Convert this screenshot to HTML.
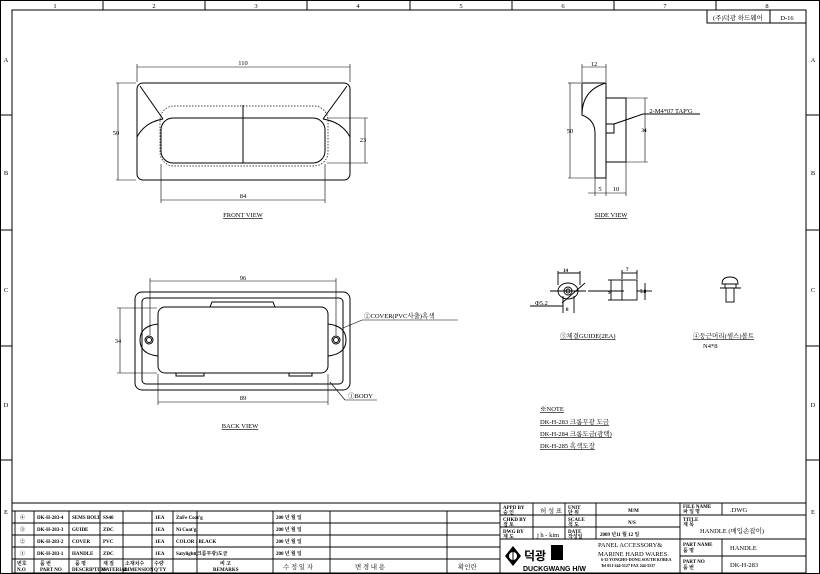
<!DOCTYPE html>
<html><head><meta charset="utf-8"><style>
html,body{margin:0;padding:0;background:#fff}
svg{display:block}
text{font-family:"Liberation Serif","Noto Serif CJK SC","Noto Sans CJK KR",serif;fill:#000}
.s{font-size:6.5px}
.t{font-size:5px;font-weight:bold}
</style></head><body>
<svg width="820" height="574" viewBox="0 0 820 574" xmlns="http://www.w3.org/2000/svg">
<g fill="none" stroke="#000" stroke-width="1">
<rect x="0.5" y="0.5" width="819" height="573"/>
<rect x="12" y="10" width="794" height="563"/>
<line x1="103" y1="0" x2="103" y2="10"/><line x1="205" y1="0" x2="205" y2="10"/>
<line x1="307" y1="0" x2="307" y2="10"/><line x1="410" y1="0" x2="410" y2="10"/>
<line x1="512" y1="0" x2="512" y2="10"/><line x1="614" y1="0" x2="614" y2="10"/>
<line x1="716" y1="0" x2="716" y2="10"/>
<line x1="0" y1="115" x2="12" y2="115"/><line x1="0" y1="230" x2="12" y2="230"/>
<line x1="0" y1="346" x2="12" y2="346"/><line x1="0" y1="460" x2="12" y2="460"/>
<line x1="806" y1="115" x2="820" y2="115"/><line x1="806" y1="230" x2="820" y2="230"/>
<line x1="806" y1="346" x2="820" y2="346"/><line x1="806" y1="460" x2="820" y2="460"/>
<rect x="707" y="10" width="99" height="13"/><line x1="770" y1="10" x2="770" y2="23"/>
</g>
<g class="s" text-anchor="middle">
<text x="55" y="8">1</text><text x="154" y="8">2</text><text x="256" y="8">3</text><text x="358" y="8">4</text><text x="461" y="8">5</text><text x="563" y="8">6</text><text x="665" y="8">7</text><text x="767" y="8">8</text>
<text x="6" y="62">A</text><text x="6" y="175">B</text><text x="6" y="292">C</text><text x="6" y="407">D</text><text x="6" y="514">E</text>
<text x="813" y="62">A</text><text x="813" y="175">B</text><text x="813" y="292">C</text><text x="813" y="407">D</text><text x="813" y="514">E</text>
<text x="738" y="20">(주)덕광 하드웨어</text><text x="787" y="20">D-16</text>
</g>

<!-- FRONT VIEW -->
<g fill="none" stroke="#000" stroke-width="1">
<rect x="137" y="83" width="213" height="97" rx="6"/>
<rect x="161" y="118" width="164" height="45" rx="12"/>
<rect x="160" y="106" width="168" height="60" rx="14" stroke-dasharray="1.5,1.5" stroke-width="0.7"/>
<line x1="243" y1="105" x2="243" y2="163"/>
<line x1="140" y1="86" x2="163" y2="119"/><line x1="347" y1="86" x2="323" y2="119"/>
<path d="M137 137 Q145 122 163 119"/><path d="M350 137 Q342 122 323 119"/>
<g stroke-width="0.6">
<line x1="137" y1="82" x2="137" y2="64"/><line x1="350" y1="82" x2="350" y2="64"/><line x1="137" y1="67" x2="350" y2="67"/>
<line x1="116" y1="83" x2="136" y2="83"/><line x1="116" y1="180" x2="136" y2="180"/><line x1="118" y1="83" x2="118" y2="180"/>
<line x1="327" y1="118" x2="368" y2="118"/><line x1="327" y1="163" x2="368" y2="163"/><line x1="365" y1="118" x2="365" y2="163"/>
<line x1="161" y1="164" x2="161" y2="203"/><line x1="325" y1="164" x2="325" y2="203"/><line x1="161" y1="200" x2="325" y2="200"/>
</g></g>
<g class="s" text-anchor="middle">
<text x="243" y="65">110</text><text x="116" y="135">50</text><text x="363" y="142">23</text><text x="243" y="198">84</text>
<text x="243" y="217" text-decoration="underline">FRONT VIEW</text>
</g>

<!-- SIDE VIEW -->
<g fill="none" stroke="#000" stroke-width="1">
<path d="M582 83 L606 83 L606 178 L595 178 L595 133 Q595 120 582 115 Z"/>
<path d="M582 115 Q582 90 606 83"/>
<rect x="606" y="98" width="20" height="64"/>
<rect x="606" y="124" width="8" height="9"/>
<line x1="614" y1="124" x2="643" y2="114"/><line x1="643" y1="114" x2="700" y2="114"/>
<g stroke-width="0.6">
<line x1="582" y1="82" x2="582" y2="64"/><line x1="606" y1="82" x2="606" y2="64"/><line x1="582" y1="67" x2="606" y2="67"/>
<line x1="568" y1="83" x2="581" y2="83"/><line x1="568" y1="178" x2="594" y2="178"/><line x1="570" y1="83" x2="570" y2="178"/>
<line x1="626" y1="98" x2="648" y2="98"/><line x1="626" y1="162" x2="648" y2="162"/><line x1="645" y1="98" x2="645" y2="162"/>
<line x1="595" y1="178" x2="595" y2="196"/><line x1="606" y1="178" x2="606" y2="196"/><line x1="626" y1="162" x2="626" y2="196"/><line x1="588" y1="193" x2="626" y2="193"/>
</g></g>
<g class="s" text-anchor="middle">
<text x="594" y="66">12</text><text x="570" y="133">50</text><text x="644" y="132" class="t">34</text>
<text x="600" y="191">5</text><text x="616" y="191">10</text>
<text x="671" y="113">2-M4*07 TAP'G</text>
<text x="611" y="217" text-decoration="underline">SIDE VIEW</text>
</g>

<!-- BACK VIEW -->
<g fill="none" stroke="#000" stroke-width="1">
<rect x="135" y="292" width="215" height="98" rx="7"/>
<rect x="142" y="298" width="201" height="86" rx="4"/>
<rect x="158" y="307" width="170" height="66" rx="7"/>
<path d="M158 324 Q140 326 140 340 Q140 354 158 356"/><path d="M328 324 Q346 326 346 340 Q346 354 328 356"/>
<circle cx="149" cy="340" r="4"/><circle cx="149" cy="340" r="2.5"/>
<circle cx="336" cy="340" r="4"/><circle cx="336" cy="340" r="2.5"/>
<path d="M210 307 L212 302 L273 302 L275 307"/>
<path d="M176 373 L176 376 L204 376 L204 373"/><path d="M289 373 L289 376 L312 376 L312 373"/>
<g stroke-width="0.6">
<line x1="150" y1="278" x2="150" y2="335"/><line x1="336" y1="278" x2="336" y2="335"/><line x1="150" y1="281" x2="336" y2="281"/>
<line x1="117" y1="308" x2="157" y2="308"/><line x1="117" y1="373" x2="157" y2="373"/><line x1="120" y1="308" x2="120" y2="373"/>
<line x1="158" y1="374" x2="158" y2="405"/><line x1="328" y1="374" x2="328" y2="405"/><line x1="158" y1="402" x2="328" y2="402"/>
<line x1="343" y1="328" x2="362" y2="320"/><line x1="362" y1="320" x2="458" y2="320"/>
<line x1="330" y1="382" x2="345" y2="400"/><line x1="345" y1="400" x2="377" y2="400"/>
</g></g>
<g class="s" text-anchor="middle">
<text x="243" y="280">96</text><text x="118" y="343">34</text><text x="243" y="400">89</text>
<text x="240" y="428" text-decoration="underline">BACK VIEW</text>
</g>
<text x="364" y="318" class="s">②COVER(PVC사출)흑색</text>
<text x="348" y="398" class="s">①BODY</text>

<!-- GUIDE -->
<g fill="none" stroke="#000" stroke-width="0.9">
<ellipse cx="568" cy="291" rx="10" ry="8"/><circle cx="568" cy="291" r="4"/><circle cx="568" cy="291" r="2"/>
<line x1="550" y1="291" x2="586" y2="291"/><line x1="585" y1="283" x2="562" y2="303"/>
<line x1="530" y1="306" x2="563" y2="306"/>
<line x1="558" y1="285" x2="558" y2="271"/><line x1="580" y1="285" x2="580" y2="271"/><line x1="558" y1="273" x2="580" y2="273"/>
<line x1="563" y1="296" x2="563" y2="313"/><line x1="574" y1="296" x2="574" y2="313"/>
<line x1="588" y1="291" x2="624" y2="291"/>
<rect x="622" y="280" width="15" height="20"/>
<line x1="608" y1="280" x2="622" y2="280"/><line x1="608" y1="300" x2="622" y2="300"/><line x1="611" y1="280" x2="611" y2="300"/>
<line x1="622" y1="279" x2="622" y2="270"/><line x1="637" y1="279" x2="637" y2="270"/><line x1="622" y1="273" x2="637" y2="273"/>
<line x1="637" y1="291" x2="652" y2="291"/><line x1="645" y1="283" x2="645" y2="300"/>
<path d="M722 284 Q722 277 730 277 Q738 277 738 284 Z"/>
<line x1="720" y1="288" x2="741" y2="288"/><rect x="725" y="284" width="11" height="4"/>
<rect x="726" y="288" width="8" height="14"/>
</g>
<g class="s">
<text x="563" y="272" class="t">14</text><text x="626" y="271" class="t">7</text>
<text x="535" y="305">Φ5.2</text><text x="566" y="311" class="t">8</text>
<text x="608" y="294" class="t">9</text><text x="640" y="293" class="t">5.8</text>
<text x="560" y="338" text-decoration="underline">③체결GUIDE(2EA)</text>
<text x="693" y="338" text-decoration="underline">④둥근머리(셈스)볼트</text>
<text x="703" y="348">N4*8</text>
<text x="540" y="411" text-decoration="underline">※NOTE</text>
<text x="540" y="424" text-decoration="underline">DK-H-283  크롬무광 도금</text>
<text x="540" y="436" text-decoration="underline">DK-H-284  크롬도금(광택)</text>
<text x="540" y="448" text-decoration="underline">DK-H-285  흑색도장</text>
</g>

<!-- TITLE TABLE LEFT -->
<g fill="none" stroke="#000" stroke-width="0.9">
<line x1="12" y1="503" x2="806" y2="503"/>
<line x1="12" y1="511" x2="500" y2="511"/><line x1="12" y1="523" x2="500" y2="523"/>
<line x1="12" y1="535" x2="500" y2="535"/><line x1="12" y1="547" x2="500" y2="547"/>
<line x1="12" y1="559" x2="500" y2="559"/>
<line x1="15" y1="511" x2="15" y2="573"/><line x1="34" y1="511" x2="34" y2="573"/>
<line x1="69" y1="511" x2="69" y2="573"/><line x1="100" y1="511" x2="100" y2="573"/>
<line x1="123" y1="511" x2="123" y2="573"/><line x1="152" y1="511" x2="152" y2="573"/>
<line x1="173" y1="511" x2="173" y2="573"/><line x1="197" y1="511" x2="197" y2="573"/>
<line x1="273" y1="511" x2="273" y2="573"/><line x1="330" y1="511" x2="330" y2="573"/>
<line x1="447" y1="511" x2="447" y2="573"/><line x1="500" y1="503" x2="500" y2="573"/>
</g>
<g class="t">
<text x="20" y="519">④</text><text x="37" y="519">DK-H-283-4</text><text x="72" y="519">SEMS BOLT</text><text x="103" y="519">SS40</text><text x="155" y="519">1EA</text><text x="176" y="519">ZnFe Coat'g</text><text x="276" y="519">200 년  월  일</text>
<text x="20" y="531">③</text><text x="37" y="531">DK-H-283-3</text><text x="72" y="531">GUIDE</text><text x="103" y="531">ZDC</text><text x="155" y="531">1EA</text><text x="176" y="531">Ni Coat'g</text><text x="276" y="531">200 년  월  일</text>
<text x="20" y="543">②</text><text x="37" y="543">DK-H-283-2</text><text x="72" y="543">COVER</text><text x="103" y="543">PVC</text><text x="155" y="543">1EA</text><text x="176" y="543">COLOR : BLACK</text><text x="276" y="543">200 년  월  일</text>
<text x="20" y="555">①</text><text x="37" y="555">DK-H-283-1</text><text x="72" y="555">HANDLE</text><text x="103" y="555">ZDC</text><text x="155" y="555">1EA</text><text x="176" y="555">Satylight(크롬무광)도금</text><text x="276" y="555">200 년  월  일</text>
<text x="17" y="565">번호</text><text x="40" y="565">품  번</text><text x="75" y="565">품  명</text><text x="103" y="565">재 질</text><text x="125" y="565">소재치수</text><text x="154" y="565">수량</text><text x="220" y="565">비 고</text>
<text x="17" y="571">N.O</text><text x="40" y="571">PART NO</text><text x="72" y="571">DESCRIPTION</text><text x="101" y="571">MATERIAL</text><text x="124" y="571">DIMENSION</text><text x="154" y="571">Q'TY</text><text x="213" y="571">REMARKS</text>
</g>
<g class="s">
<text x="283" y="569">수 정 일 자</text><text x="355" y="569">변   경   내   용</text><text x="458" y="569">확인란</text>
</g>

<!-- TITLE BLOCK RIGHT -->
<g fill="none" stroke="#000" stroke-width="0.9">
<line x1="500" y1="515" x2="680" y2="515"/><line x1="500" y1="527" x2="680" y2="527"/>
<line x1="500" y1="539" x2="806" y2="539"/><line x1="680" y1="515" x2="806" y2="515"/>
<line x1="680" y1="556" x2="806" y2="556"/>
<line x1="533" y1="503" x2="533" y2="539"/><line x1="565" y1="503" x2="565" y2="539"/>
<line x1="596" y1="503" x2="596" y2="539"/><line x1="680" y1="503" x2="680" y2="573"/>
<line x1="722" y1="503" x2="722" y2="515"/><line x1="722" y1="539" x2="722" y2="573"/>
</g>
<g class="t">
<text x="503" y="509">APPD BY</text><text x="503" y="514">승 인</text>
<text x="503" y="521">CHKD BY</text><text x="503" y="526">검 토</text>
<text x="503" y="533">DWG BY</text><text x="503" y="538">제 도</text>
<text x="568" y="509">UNIT</text><text x="568" y="514">단 위</text>
<text x="568" y="521">SCALE</text><text x="568" y="526">척 도</text>
<text x="568" y="533">DATE</text><text x="568" y="538">작성일</text>
<text x="628" y="512">M/M</text><text x="628" y="524">N/S</text><text x="600" y="536">2009 년11 월 12 일</text>
<text x="683" y="508">FILE NAME</text><text x="683" y="513">파 일 명</text>
<text x="683" y="521">TITLE</text><text x="683" y="526">제 목</text>
<text x="683" y="546">PART NAME</text><text x="683" y="552">품 명</text>
<text x="683" y="563">PART NO</text><text x="683" y="569">품 번</text>
<text x="601" y="561" style="font-size:4px">6-35 YONGHO-DONG SOUTH KOREA</text><text x="601" y="567" style="font-size:4px">Tel 051-244-5127 FAX 244-5537</text>
</g>
<g class="s">
<text x="540" y="513">허 성 표</text><text x="537" y="537">j h - kim</text>
<text x="730" y="512">.DWG</text>
<text x="700" y="533">HANDLE (매입손잡이)</text>
<text x="730" y="550">HANDLE</text><text x="730" y="567">DK-H-283</text>
<text x="598" y="547">PANEL ACCESSORY&amp;</text><text x="598" y="556">MARINE HARD WARES.</text>
</g>
<g>
<path d="M513 546 L521 556 L513 566 L505 556 Z" fill="#000"/>
<circle cx="513" cy="556" r="4" fill="#fff"/><line x1="513" y1="552" x2="513" y2="560" stroke="#000"/>
<text x="524" y="560" style="font-size:12px;font-weight:bold;font-family:'Noto Sans CJK KR',sans-serif">덕광</text>
<rect x="551" y="545" width="12" height="15" fill="#000"/>
<text x="523" y="571" style="font-size:7px;font-weight:bold;font-family:'Liberation Sans',sans-serif">DUCKGWANG H/W</text>
</g>
</svg>
</body></html>
